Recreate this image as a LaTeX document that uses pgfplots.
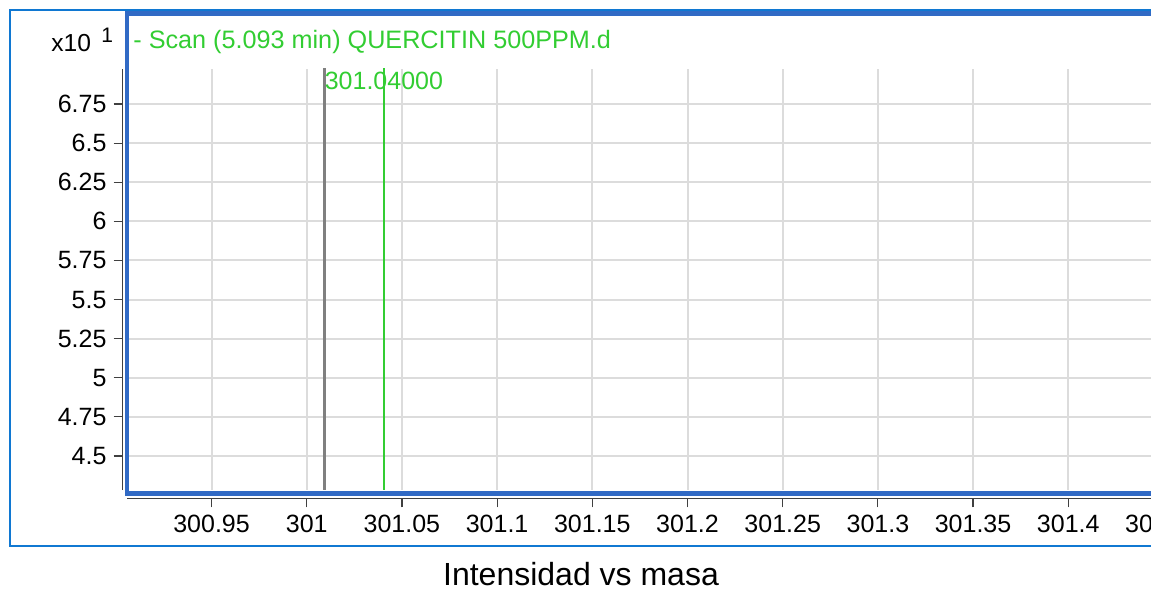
\documentclass[border=0pt]{standalone}
\usepackage{fontspec}
\setmainfont{Liberation Sans}
\usepackage{pgfplots}
\pgfplotsset{compat=1.18}
\definecolor{frameblue}{RGB}{49,106,197}
\definecolor{outerblue}{RGB}{16,120,210}
\definecolor{specgreen}{RGB}{50,205,50}
\definecolor{specgray}{RGB}{128,128,128}
\definecolor{gridgray}{RGB}{220,220,220}
\begin{document}
\begin{tikzpicture}
\useasboundingbox (0,0) rectangle (575.5pt,296pt);
\clip (0,0) rectangle (575.5pt,296pt);
\begin{axis}[
  at={(63.5pt,51pt)}, anchor=south west,
  scale only axis, width=536.5pt, height=210.5pt,
  xmin=300.9056, xmax=301.4692, ymin=4.2826, ymax=6.9738,
  axis x line*=bottom, axis y line*=left,
  x axis line style={yshift=-4.15pt, -, black!75, line width=0.6pt},
  y axis line style={xshift=-2.15pt, -, black!75, line width=0.6pt},
  tick align=outside, major tick length=4.6pt,
  xtick style={yshift=-4.15pt, black!75, line width=0.6pt},
  ytick style={xshift=-2.15pt, black!75, line width=0.6pt},
  xticklabel style={yshift=-4.15pt},
  yticklabel style={xshift=-2.15pt},
  tick label style={font=\fontsize{12.5}{14}\selectfont},
  xtick={300.95,301,301.05,301.1,301.15,301.2,301.25,301.3,301.35,301.4,301.45},
  xticklabels={300.95,301,301.05,301.1,301.15,301.2,301.25,301.3,301.35,301.4,301.45},
  ytick={4.5,4.75,5,5.25,5.5,5.75,6,6.25,6.5,6.75},
  yticklabels={4.5,4.75,5,5.25,5.5,5.75,6,6.25,6.5,6.75},
  grid=major, major grid style={gridgray, line width=1pt},
]
\addplot[ycomb, specgray, line width=1.3pt, mark=none] coordinates {(301.0093,7.2)};
\addplot[ycomb, specgreen, line width=1pt, mark=none] coordinates {(301.0407,7.2)};
\node[anchor=base west, inner sep=0pt, text=specgreen, font=\fontsize{12.5}{14}\selectfont] at (axis cs:301.0093,6.8395) {301.04000};
\end{axis}
\draw[frameblue, line width=2.4pt] (63.5pt,49.25pt) rectangle (620pt,289.15pt);
\draw[outerblue, line width=1pt] (5pt,23.15pt) rectangle (620pt,290.9pt);
\node[anchor=base west, inner sep=0pt, text=specgreen, font=\fontsize{12.6}{14}\selectfont] at (66.5pt,271.85pt) {- Scan (5.093 min) QUERCITIN 500PPM.d};
\node[anchor=base west, inner sep=0pt, font=\fontsize{12.3}{14}\selectfont] at (25.5pt,270.15pt) {x10};
\node[anchor=base west, inner sep=0pt, font=\fontsize{10.5}{12}\selectfont] at (50.5pt,274.6pt) {1};
\node[anchor=base, inner sep=0pt, font=\fontsize{16}{19}\selectfont] at (290.5pt,3pt) {Intensidad vs masa};
\end{tikzpicture}
\end{document}
